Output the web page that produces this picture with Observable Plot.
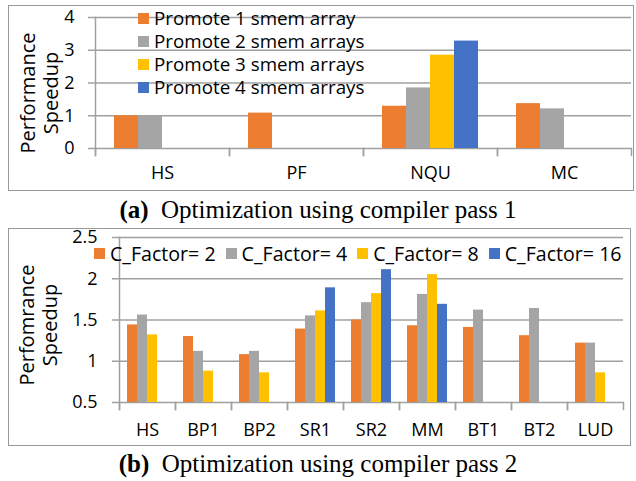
<!DOCTYPE html>
<html><head><meta charset="utf-8">
<script src="https://cdn.jsdelivr.net/npm/d3@7"></script>
<script src="https://cdn.jsdelivr.net/npm/@observablehq/plot@0.6"></script>
<style>
body{margin:0;background:#fff;}
#wrap{position:relative;width:636px;height:481px;overflow:hidden;font-family:"Open Sans",sans-serif;color:#000;background:#fff;}
.box{position:absolute;border:1.5px solid #999;box-sizing:border-box;}
.ytitle{position:absolute;transform:translate(-50%,-50%) rotate(-90deg);white-space:nowrap;text-align:center;font-size:20px;line-height:23px;}
.cap{position:absolute;left:0;width:636px;text-align:center;font-family:"Liberation Serif","Times New Roman",serif;font-size:25px;line-height:25px;white-space:pre;}
.lgA-swatch{height:23px;line-height:23px;padding:0 !important;overflow:visible !important;}
.lgA-swatch > svg{margin-right:5px !important;}
.lgA-swatch-label{line-height:23px;overflow:visible !important;text-overflow:clip !important;}
.lgB-swatches-wrap{min-height:0 !important;flex-wrap:nowrap !important;height:23px;line-height:23px;}
.lgB-swatch{margin-right:10px !important;}
.lgB-swatch > svg{margin-right:5px !important;}
</style>
</head><body>
<div id="wrap"></div>
<script>
// ---- data: chart (a)
const catsA = ["HS", "PF", "NQU", "MC"];
const seriesA = ["Promote 1 smem array", "Promote 2 smem arrays", "Promote 3 smem arrays", "Promote 4 smem arrays"];
const promote1 = [1.0, 1.08, 1.29, 1.37];
const promote2 = [1.0, null, 1.85, 1.21];
const promote3 = [null, null, 2.85, null];
const promote4 = [null, null, 3.28, null];
const ticksA = [0, 1, 2, 3, 4];

// ---- data: chart (b)
const catsB = ["HS", "BP1", "BP2", "SR1", "SR2", "MM", "BT1", "BT2", "LUD"];
const seriesB = ["C_Factor= 2", "C_Factor= 4", "C_Factor= 8", "C_Factor= 16"];
const cf2 = [1.44, 1.30, 1.08, 1.39, 1.50, 1.43, 1.41, 1.31, 1.22];
const cf4 = [1.56, 1.12, 1.12, 1.55, 1.71, 1.81, 1.62, 1.64, 1.22];
const cf8 = [1.32, 0.88, 0.86, 1.61, 1.82, 2.05, null, null, 0.86];
const cf16 = [null, null, null, 1.89, 2.11, 1.69, null, null, null];
const ticksB = [0.5, 1, 1.5, 2, 2.5];

const colors = ["#ED7D31", "#A5A5A5", "#FFC000", "#4472C4"];
const gridColor = "#a0a0a0";

function rows(cats, series, vals) {
  const out = [];
  series.forEach((s, i) => cats.forEach((c, j) => {
    if (vals[i][j] != null) out.push({cat: c, series: s, value: vals[i][j]});
  }));
  return out;
}
const rowsA = rows(catsA, seriesA, [promote1, promote2, promote3, promote4]);
const rowsB = rows(catsB, seriesB, [cf2, cf4, cf8, cf16]);

const wrap = document.getElementById("wrap");
function add(el, css) { Object.assign(el.style, css); wrap.appendChild(el); return el; }
function div(cls, html, css) { const d = document.createElement("div"); d.className = cls; d.innerHTML = html; return add(d, css); }

// frames
div("box", "", {left: "8px", top: "5px", width: "626px", height: "186px"});
div("box", "", {left: "8px", top: "228px", width: "623px", height: "218px"});

function chart({cats, series, data, ticks, width, height, mL, mR, mT, mB, y1, tickPad, fxPad, fmt}) {
  const plotH = height - mT - mB;
  return Plot.plot({
    width, height,
    marginLeft: mL, marginRight: mR, marginTop: mT, marginBottom: mB,
    style: {fontFamily: "Open Sans", fontSize: "18px", color: "#000", background: "transparent", overflow: "visible"},
    fx: {domain: cats, padding: 0, label: null},
    x: {domain: series, paddingInner: 0, paddingOuter: 0.72, axis: null},
    y: {domain: [ticks[0], ticks[ticks.length - 1]], label: null},
    color: {domain: series, range: colors},
    marks: [
      Plot.gridY(ticks, {stroke: gridColor, strokeOpacity: 1, strokeWidth: 1.5}),
      Plot.barY(data, {fx: "cat", x: "series", y1: y1, y2: "value", fill: "series", inset: 0}),
      Plot.axisY(ticks, {tickSize: 7, tickPadding: tickPad, stroke: gridColor, strokeOpacity: 1, strokeWidth: 1.5, fill: "#000", label: null, tickFormat: fmt}),
      Plot.frame({anchor: "left", facetAnchor: "left", stroke: gridColor, strokeWidth: 1.5, insetBottom: -7}),
      Plot.frame({anchor: "left", insetTop: plotH, insetBottom: -7, stroke: gridColor, strokeWidth: 1.5}),
      Plot.frame({anchor: "right", insetTop: plotH, insetBottom: -7, stroke: gridColor, strokeWidth: 1.5}),
      Plot.axisFx({anchor: "bottom", tickSize: 0, tickPadding: fxPad, label: null, fill: "#000"})
    ]
  });
}

const svgA = chart({cats: catsA, series: seriesA, data: rowsA, ticks: ticksA, width: 626, height: 185,
  mL: 85, mR: 2, mT: 12, mB: 42, y1: 0, tickPad: 14, fxPad: 18, fmt: d => String(d)});
add(svgA, {position: "absolute", left: "8px", top: "5px"});

const svgB = chart({cats: catsB, series: seriesB, data: rowsB, ticks: ticksB, width: 623, height: 217,
  mL: 109, mR: 7, mT: 9, mB: 43, y1: 0.5, tickPad: 15, fxPad: 21, fmt: d => String(d)});
add(svgB, {position: "absolute", left: "8px", top: "228px"});

// legends
const legA = Plot.legend({color: {domain: seriesA, range: colors}, legend: "swatches", columns: 1, swatchSize: 11, className: "lgA"});
add(legA, {position: "absolute", left: "138px", top: "6.5px", width: "300px", margin: "0", fontFamily: "Open Sans", fontSize: "18.8px", lineHeight: "23px", color: "#000"});

const legB = Plot.legend({color: {domain: seriesB, range: colors}, legend: "swatches", swatchSize: 11, className: "lgB"});
add(legB, {position: "absolute", left: "94px", top: "241.5px", width: "580px", margin: "0", fontFamily: "Open Sans", fontSize: "19.6px", lineHeight: "23px", color: "#000"});

// y titles
div("ytitle", "Performance<br>Speedup", {left: "38.5px", top: "93px"});
div("ytitle", "Perfomrance<br>Speedup", {left: "38px", top: "325px"});

// captions
div("cap", "<b>(a)</b>  Optimization using compiler pass 1", {top: "197px"});
div("cap", "<b>(b)</b>  Optimization using compiler pass 2", {top: "451px"});
</script>
</body></html>
